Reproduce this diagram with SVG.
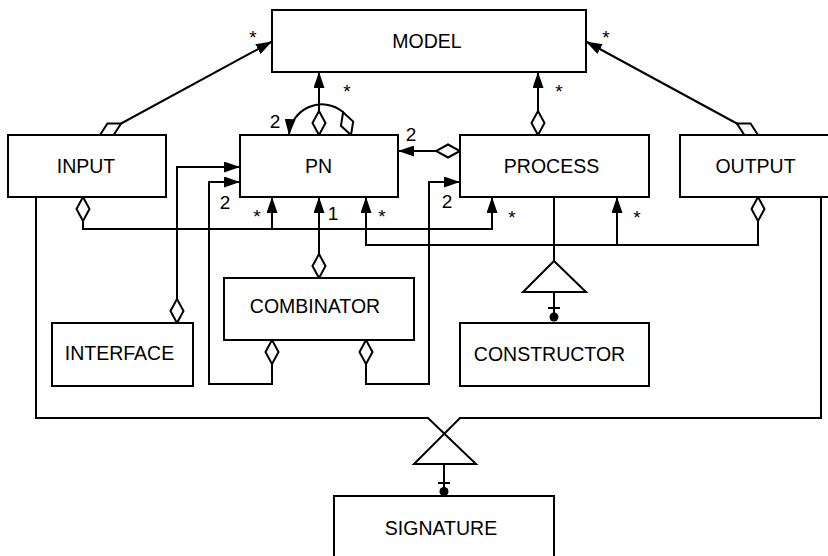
<svg xmlns="http://www.w3.org/2000/svg" width="828" height="556" viewBox="0 0 828 556">
<style>
.box{fill:#fff;stroke:#000;stroke-width:2}
.ln{fill:none;stroke:#000;stroke-width:2}
.lbl{font-family:"Liberation Sans",Arial,sans-serif;font-size:19.5px;fill:#000;text-anchor:middle}
.m{font-family:"Liberation Sans",Arial,sans-serif;font-size:19px;fill:#000;text-anchor:middle}
.a{marker-end:url(#arr)}
.d{marker-start:url(#dia)}
</style>
<defs>
<marker id="arr" markerUnits="userSpaceOnUse" viewBox="0 0 16 11" refX="16" refY="5.5" markerWidth="16" markerHeight="11" orient="auto"><path d="M0,0 L16,5.5 L0,11 z" fill="#000"/></marker>
<marker id="dia" markerUnits="userSpaceOnUse" viewBox="-2 -9 28 18" refX="0" refY="0" markerWidth="28" markerHeight="18" orient="auto"><path d="M0,0 L12,-6.5 L24,0 L12,6.5 z" fill="#fff" stroke="#000" stroke-width="2"/></marker>
</defs>
<rect width="828" height="556" fill="#fff"/>
<g id="connectors">
<path class="ln d a" d="M100,135 L272,41.5"/>
<path class="ln d a" d="M758,135 L586,41.5"/>
<path class="ln d a" d="M319,135 L319,72"/>
<path class="ln d a" d="M351,135 L343,112 A33,33 0 0 0 289,135"/>
<path class="ln d a" d="M460,151 L398,151"/>
<path class="ln d a" d="M538,135 L538,72"/>
<path class="ln d a" d="M83,197 V229 H272 V197"/>
<path class="ln a" d="M272,229 H492 V197"/>
<path class="ln d a" d="M758,197 V245 H617 V197"/>
<path class="ln a" d="M617,245 H366 V197"/>
<path class="ln d a" d="M177,323 V167 H240"/>
<path class="ln d a" d="M272,340 V384 H209 V182 H240"/>
<path class="ln d a" d="M366,340 V384 H429 V182 H460"/>
<path class="ln d a" d="M319,278 V197"/>
<path class="ln" d="M554,197 V261"/>
<polygon class="ln" points="554,261 523,292 586,292"/>
<path class="ln" d="M554,292 V316 M548,308 H560"/>
<circle cx="554" cy="317" r="4.5" fill="#000"/>
<path class="ln" d="M36,197 V418 H428 L476,464 H414 L460,418 H821 V197"/>
<path class="ln" d="M444,464 V491 M438,483 H450"/>
<circle cx="444" cy="491.5" r="4.5" fill="#000"/>
<text class="m" x="253" y="44">*</text>
<text class="m" x="606" y="44">*</text>
<text class="m" x="347" y="98">*</text>
<text class="m" x="559" y="98">*</text>
<text class="m" x="275" y="128">2</text>
<text class="m" x="411" y="141">2</text>
<text class="m" x="225" y="208.5">2</text>
<text class="m" x="447" y="207.5">2</text>
<text class="m" x="257" y="223">*</text>
<text class="m" x="333" y="220">1</text>
<text class="m" x="382" y="223">*</text>
<text class="m" x="512" y="224">*</text>
<text class="m" x="637" y="224">*</text>
</g>
<g id="node-model"><rect class="box" x="272" y="10" width="314" height="62"/><text class="lbl" x="427" y="48.3">MODEL</text></g>
<g id="node-input"><rect class="box" x="8" y="135" width="158" height="62"/><text class="lbl" x="86" y="173.3">INPUT</text></g>
<g id="node-pn"><rect class="box" x="240" y="135" width="158" height="62"/><text class="lbl" x="318.5" y="173.3">PN</text></g>
<g id="node-process"><rect class="box" x="460" y="135" width="189" height="62"/><text class="lbl" x="551.5" y="173.3">PROCESS</text></g>
<g id="node-output"><rect class="box" x="680" y="135" width="150" height="62"/><text class="lbl" x="755.5" y="173.3">OUTPUT</text></g>
<g id="node-combinator"><rect class="box" x="224" y="278" width="190" height="62"/><text class="lbl" x="315" y="313.3">COMBINATOR</text></g>
<g id="node-interface"><rect class="box" x="52" y="323" width="141" height="63"/><text class="lbl" x="119.5" y="360">INTERFACE</text></g>
<g id="node-constructor"><rect class="box" x="460" y="323" width="189" height="63"/><text class="lbl" x="549.5" y="360.5">CONSTRUCTOR</text></g>
<g id="node-signature"><rect class="box" x="334" y="496" width="220" height="64"/><text class="lbl" x="441" y="535">SIGNATURE</text></g>
</svg>
